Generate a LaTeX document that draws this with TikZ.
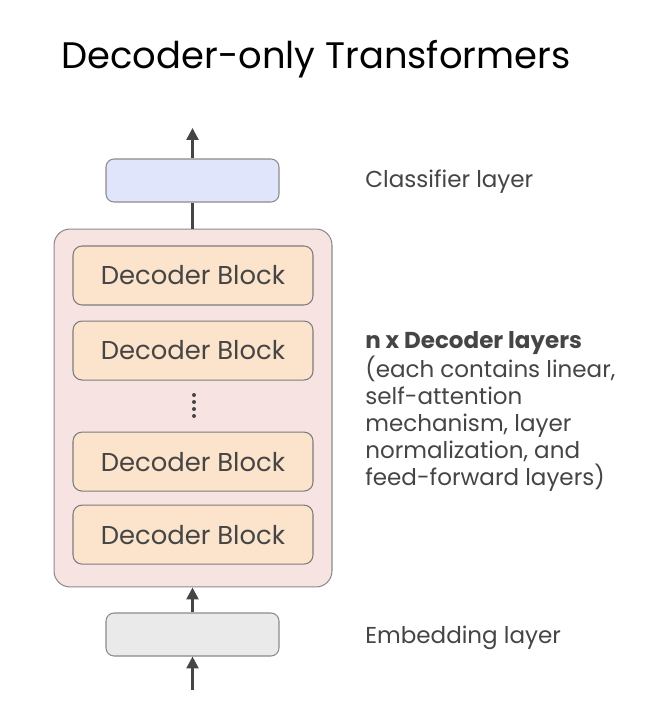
\documentclass[tikz,border=0pt]{standalone}
\usepackage{fontspec}
\setmainfont{Poppins}
\usetikzlibrary{arrows.meta,positioning}

\definecolor{inkgray}{HTML}{454545}
\definecolor{edgegray}{HTML}{8A8A8A}
\definecolor{clsfill}{HTML}{E1E5FB}
\definecolor{stackfill}{HTML}{F8E3E3}
\definecolor{blockfill}{HTML}{FCE3CB}
\definecolor{embfill}{HTML}{EAEAEA}

\begin{document}
\begin{tikzpicture}[
      x=0.02cm, y=-0.02cm,
      node distance=0.30cm,
      font=\fontsize{13.1}{15.3}\selectfont,
      text=inkgray,
      layerbox/.style={draw=edgegray, line width=0.6pt, rounded corners=0.16cm,
        minimum width=3.46cm, minimum height=0.86cm, inner sep=0pt},
      blockbox/.style={draw=edgegray!90!black, fill=blockfill, line width=0.6pt, rounded corners=0.18cm,
        minimum width=4.8cm, minimum height=1.18cm, inner sep=0pt,
        font=\fontsize{14.7}{17}\selectfont},
      lbl/.style={anchor=base west, inner sep=0pt},
      arr/.style={-{Triangle[length=6.8pt, width=6.8pt]}, draw=inkgray, line width=1.5pt},
      plain/.style={draw=inkgray, line width=1.5pt}
    ]
    \useasboundingbox (0,0) rectangle (652,716);

    \node[anchor=base, text=black, inner sep=0pt, font=\fontsize{21}{24}\selectfont] (title) at (316,69) {Decoder-only Transformers};

    % stack of decoder blocks
    \node[draw=edgegray, fill=stackfill, line width=0.6pt, rounded corners=0.32cm,
      minimum width=5.56cm, minimum height=7.16cm, inner sep=0pt] (stack) at (193,408) {};
    \node[blockbox] (b1) at (193,275.5) {Decoder Block};
    \node[blockbox, below=of b1] (b2) {Decoder Block};
    \node[blockbox, below=1.02cm of b2] (b3) {Decoder Block};
    \node[blockbox, below=0.26cm of b3] (b4) {Decoder Block};
    \foreach \dy in {395,402,409,416}
      \fill[inkgray] (194,\dy) circle (0.04cm);

    \node[layerbox, fill=clsfill] (cls) at (192.5,180.5) {};
    \node[layerbox, fill=embfill] (emb) at (192.5,634.5) {};
    \coordinate (out) at (192.5,128);
    \coordinate (in) at (192.5,690);

    \draw[arr] (cls.north) -- (out);
    \draw[plain] (stack.north -| cls.south) -- (cls.south);
    \draw[arr] (emb.north) -- (emb.north |- stack.south);
    \draw[arr] (in) -- (emb.south);

    % labels on the right
    \node[lbl] (clslbl) at (365,188) {Classifier layer};
    \node[lbl] (emblbl) at (365,643) {Embedding layer};
    \node[anchor=north west, inner sep=0pt, align=left] (declbl) at (365,331)
      {\textbf{n x Decoder layers}\\(each contains linear,\\self-attention\\mechanism, layer\\normalization, and\\feed-forward layers)};
  \end{tikzpicture}
\end{document}
